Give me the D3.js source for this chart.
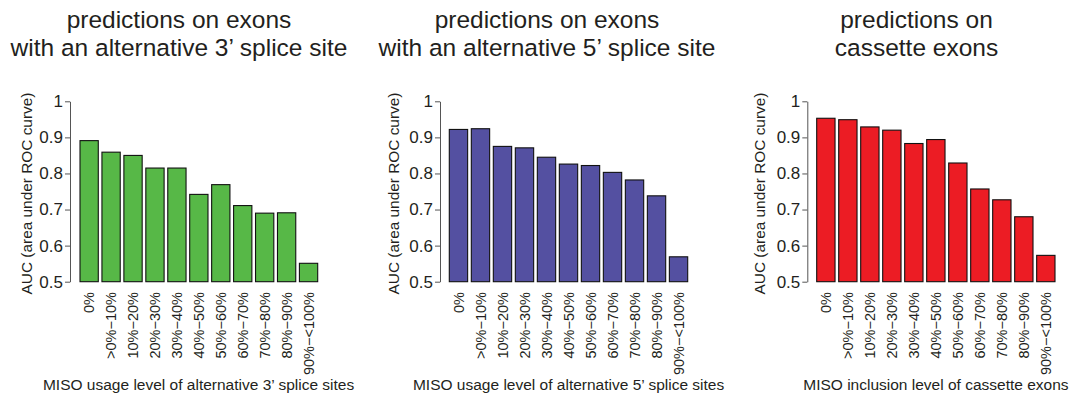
<!DOCTYPE html>
<html>
<head>
<meta charset="utf-8">
<script src="https://cdn.jsdelivr.net/npm/d3@7"></script>
<style>
  html, body { margin: 0; padding: 0; background: #fff; }
  svg { display: block; font-family: "Liberation Sans", Arial, sans-serif; }
</style>
</head>
<body>
<svg id="chart" width="1071" height="395"></svg>
<script>
// MISO level bins shared by all three panels
const categories = ["0%", ">0%\u221210%", "10%\u221220%", "20%\u221230%", "30%\u221240%",
  "40%\u221250%", "50%\u221260%", "60%\u221270%", "70%\u221280%", "80%\u221290%", "90%\u2212<100%"];

// AUC per bin
const aucAlt3 = [0.891, 0.859, 0.850, 0.815, 0.815, 0.742, 0.769, 0.711, 0.690, 0.691, 0.551];
const aucAlt5 = [0.922, 0.924, 0.875, 0.871, 0.845, 0.826, 0.822, 0.803, 0.782, 0.738, 0.569];
const aucCassette = [0.953, 0.949, 0.929, 0.920, 0.883, 0.894, 0.829, 0.757, 0.727, 0.680, 0.573];

const yTicks = [0.5, 0.6, 0.7, 0.8, 0.9, 1];
const yTickLabels = ["0.5", "0.6", "0.7", "0.8", "0.9", "1"];
const yTitle = "AUC (area under ROC curve)";

const panelTitles = [
  ["predictions on exons", "with an alternative 3\u2019 splice site"],
  ["predictions on exons", "with an alternative 5\u2019 splice site"],
  ["predictions on", "cassette exons"]
];
const xTitles = [
  "MISO usage level of alternative 3\u2019 splice sites",
  "MISO usage level of alternative 5\u2019 splice sites",
  "MISO inclusion level of cassette exons"
];
const seriesValues = [aucAlt3, aucAlt5, aucCassette];
const seriesColors = ["#57b847", "#5450a1", "#ec1c24"];

// panel geometry
const layout = [
  { axisX: 70,    barL: 80,    barR: 317.7, titleX: 179, yLabX: 32 },
  { axisX: 440,   barL: 449.3, barR: 687.7, titleX: 547, yLabX: 399 },
  { axisX: 807.3, barL: 816.7, barR: 1055,  titleX: 916.5, yLabX: 765 }
];
const yTop = 101.3, yBottom = 281.7;
const ink = "#231f20";

const svg = d3.select("#chart");
const y = d3.scaleLinear().domain([0.5, 1]).range([yBottom, yTop]);

layout.forEach((L, i) => {
  const g = svg.append("g");
  const x = d3.scaleBand().domain(categories).range([L.barL, L.barR])
    .paddingInner(1 / 6).paddingOuter(0);

  // title (two lines)
  g.append("text").attr("x", L.titleX).attr("text-anchor", "middle")
    .attr("font-size", 24.5).attr("fill", ink)
    .selectAll("tspan").data(panelTitles[i]).join("tspan")
    .attr("x", L.titleX).attr("y", (d, k) => 28 + k * 28).text(d => d);

  // bars
  g.selectAll("rect").data(seriesValues[i]).join("rect")
    .attr("x", (d, k) => x(categories[k]))
    .attr("width", x.bandwidth())
    .attr("y", d => y(d))
    .attr("height", d => y(0.5) - y(d))
    .attr("fill", seriesColors[i])
    .attr("stroke", "#111").attr("stroke-width", 1.1);

  // y axis
  const ax = g.append("g").attr("transform", `translate(${L.axisX},0)`)
    .call(d3.axisLeft(y).tickValues(yTicks)
      .tickFormat((d, k) => yTickLabels[k]).tickSizeInner(5).tickSizeOuter(0).tickPadding(2));
  ax.select(".domain").attr("stroke", "#555");
  ax.selectAll(".tick line").attr("stroke", "#555");
  ax.selectAll(".tick text").attr("font-size", 17).attr("fill", ink)
    .attr("font-family", "Liberation Sans, Arial, sans-serif");

  // y title
  g.append("text")
    .attr("transform", `translate(${L.yLabX},${(yTop + yBottom) / 2 + 2}) rotate(-90)`)
    .attr("text-anchor", "middle").attr("font-size", 15.4).attr("fill", ink)
    .text(yTitle);

  // rotated category labels
  g.selectAll("text.cat").data(categories).join("text").attr("class", "cat")
    .attr("transform", d => `translate(${x(d) + x.bandwidth() / 2},292) rotate(-90)`)
    .attr("text-anchor", "end").attr("dy", "0.36em")
    .attr("font-size", 14.5).attr("fill", ink).text(d => d);

  // x title
  g.append("text")
    .attr("x", (L.axisX + L.barR + 9.5) / 2).attr("y", 390)
    .attr("text-anchor", "middle").attr("font-size", 15.5).attr("fill", ink)
    .text(xTitles[i]);
});
</script>
</body>
</html>
